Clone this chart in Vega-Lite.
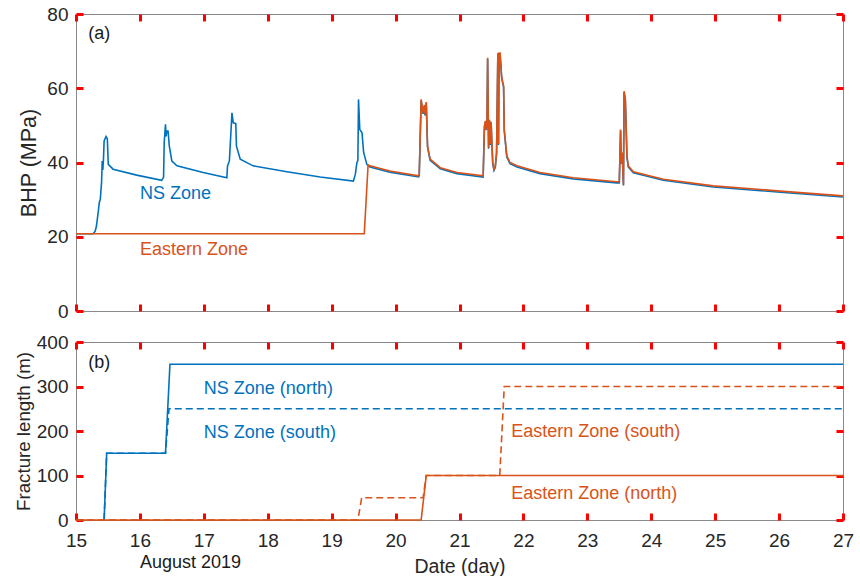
{
  "$schema": "https://vega.github.io/schema/vega-lite/v6.json",
  "padding": {"left": 13, "top": 4, "right": 5, "bottom": 0},
  "spacing": 31,
  "bounds": "flush",
  "config": {
    "font": "Liberation Sans",
    "view": {"stroke": "#8a8a8a", "strokeWidth": 1},
    "axis": {"grid": false, "domain": false, "labelFontSize": 19, "labelFlush": false, "labelOverlap": false}
  },
  "datasets": {
    "bhp": [
      {"z": "NS", "t": 15.0, "p": 20.8}, {"z": "NS", "t": 15.27, "p": 20.8}, {"z": "NS", "t": 15.3, "p": 21.5}, {"z": "NS", "t": 15.32, "p": 22.9}, {"z": "NS", "t": 15.35, "p": 27}, {"z": "NS", "t": 15.365, "p": 29.3}, {"z": "NS", "t": 15.38, "p": 30}, {"z": "NS", "t": 15.4, "p": 34.7}, {"z": "NS", "t": 15.41, "p": 40.4}, {"z": "NS", "t": 15.42, "p": 38}, {"z": "NS", "t": 15.43, "p": 41}, {"z": "NS", "t": 15.44, "p": 45.8}, {"z": "NS", "t": 15.47, "p": 47}, {"z": "NS", "t": 15.49, "p": 46.4}, {"z": "NS", "t": 15.505, "p": 39.5}, {"z": "NS", "t": 15.58, "p": 38.2}, {"z": "NS", "t": 15.95, "p": 36.6}, {"z": "NS", "t": 16.34, "p": 35.2},
      {"z": "NS", "t": 16.37, "p": 36}, {"z": "NS", "t": 16.38, "p": 45.3}, {"z": "NS", "t": 16.4, "p": 50.3}, {"z": "NS", "t": 16.41, "p": 47}, {"z": "NS", "t": 16.42, "p": 48.5}, {"z": "NS", "t": 16.44, "p": 48.5}, {"z": "NS", "t": 16.46, "p": 44.4}, {"z": "NS", "t": 16.5, "p": 40.4}, {"z": "NS", "t": 16.58, "p": 39.1}, {"z": "NS", "t": 16.99, "p": 37.3}, {"z": "NS", "t": 17.36, "p": 35.9},
      {"z": "NS", "t": 17.37, "p": 39}, {"z": "NS", "t": 17.4, "p": 40.5}, {"z": "NS", "t": 17.44, "p": 53.4}, {"z": "NS", "t": 17.46, "p": 50.7}, {"z": "NS", "t": 17.5, "p": 50.5}, {"z": "NS", "t": 17.51, "p": 44.4}, {"z": "NS", "t": 17.57, "p": 40.9}, {"z": "NS", "t": 17.77, "p": 39.1}, {"z": "NS", "t": 18.3, "p": 37.5}, {"z": "NS", "t": 18.82, "p": 36.1}, {"z": "NS", "t": 19.34, "p": 35.0},
      {"z": "NS", "t": 19.37, "p": 36.8}, {"z": "NS", "t": 19.395, "p": 40}, {"z": "NS", "t": 19.41, "p": 40.5}, {"z": "NS", "t": 19.42, "p": 57}, {"z": "NS", "t": 19.44, "p": 48.9}, {"z": "NS", "t": 19.475, "p": 48}, {"z": "NS", "t": 19.5, "p": 42.7}, {"z": "NS", "t": 19.55, "p": 39.5},
      {"z": "NS", "t": 19.6, "p": 38.8}, {"z": "NS", "t": 19.91, "p": 37.4}, {"z": "NS", "t": 20.36, "p": 36.1},
      {"z": "NS", "t": 20.37, "p": 36.5}, {"z": "NS", "t": 20.4, "p": 56.7}, {"z": "NS", "t": 20.43, "p": 53.1}, {"z": "NS", "t": 20.45, "p": 55.2}, {"z": "NS", "t": 20.46, "p": 52.7}, {"z": "NS", "t": 20.48, "p": 56.0}, {"z": "NS", "t": 20.5, "p": 44.1}, {"z": "NS", "t": 20.54, "p": 40.6}, {"z": "NS", "t": 20.7, "p": 38.3}, {"z": "NS", "t": 20.96, "p": 37.0}, {"z": "NS", "t": 21.37, "p": 36.1},
      {"z": "NS", "t": 21.39, "p": 49.5}, {"z": "NS", "t": 21.405, "p": 50.9}, {"z": "NS", "t": 21.42, "p": 48.7}, {"z": "NS", "t": 21.43, "p": 50.7}, {"z": "NS", "t": 21.44, "p": 67.9}, {"z": "NS", "t": 21.455, "p": 43.7}, {"z": "NS", "t": 21.47, "p": 51.2}, {"z": "NS", "t": 21.48, "p": 44.7}, {"z": "NS", "t": 21.495, "p": 50.7}, {"z": "NS", "t": 21.505, "p": 45.9}, {"z": "NS", "t": 21.52, "p": 39.7}, {"z": "NS", "t": 21.54, "p": 37.9}, {"z": "NS", "t": 21.56, "p": 38.7}, {"z": "NS", "t": 21.58, "p": 42.4}, {"z": "NS", "t": 21.6, "p": 69.2}, {"z": "NS", "t": 21.61, "p": 44.7}, {"z": "NS", "t": 21.62, "p": 69.2}, {"z": "NS", "t": 21.635, "p": 69.2}, {"z": "NS", "t": 21.66, "p": 62.7}, {"z": "NS", "t": 21.69, "p": 60.3}, {"z": "NS", "t": 21.7, "p": 48.6}, {"z": "NS", "t": 21.74, "p": 41.5}, {"z": "NS", "t": 21.79, "p": 39.7}, {"z": "NS", "t": 21.9, "p": 38.8}, {"z": "NS", "t": 22.26, "p": 37.0}, {"z": "NS", "t": 22.78, "p": 35.6}, {"z": "NS", "t": 23.46, "p": 34.5},
      {"z": "NS", "t": 23.5, "p": 34.5}, {"z": "NS", "t": 23.52, "p": 48.6}, {"z": "NS", "t": 23.53, "p": 39.7}, {"z": "NS", "t": 23.545, "p": 42.4}, {"z": "NS", "t": 23.565, "p": 33.8}, {"z": "NS", "t": 23.575, "p": 58.9}, {"z": "NS", "t": 23.595, "p": 56.7}, {"z": "NS", "t": 23.62, "p": 41.5}, {"z": "NS", "t": 23.64, "p": 38.8}, {"z": "NS", "t": 23.72, "p": 37.2}, {"z": "NS", "t": 24.19, "p": 35.2}, {"z": "NS", "t": 24.97, "p": 33.4}, {"z": "NS", "t": 26.02, "p": 32.0}, {"z": "NS", "t": 27.0, "p": 30.7},
      {"z": "E", "t": 15.0, "p": 20.8}, {"z": "E", "t": 19.51, "p": 20.8}, {"z": "E", "t": 19.57, "p": 39.4}, {"z": "E", "t": 19.6, "p": 39.1}, {"z": "E", "t": 19.91, "p": 37.7}, {"z": "E", "t": 20.36, "p": 36.4},
      {"z": "E", "t": 20.37, "p": 36.8}, {"z": "E", "t": 20.4, "p": 57}, {"z": "E", "t": 20.43, "p": 53.4}, {"z": "E", "t": 20.45, "p": 55.5}, {"z": "E", "t": 20.46, "p": 53}, {"z": "E", "t": 20.48, "p": 56.3}, {"z": "E", "t": 20.5, "p": 44.4}, {"z": "E", "t": 20.54, "p": 40.9}, {"z": "E", "t": 20.7, "p": 38.6}, {"z": "E", "t": 20.96, "p": 37.3}, {"z": "E", "t": 21.37, "p": 36.4},
      {"z": "E", "t": 21.39, "p": 49.8}, {"z": "E", "t": 21.405, "p": 51.2}, {"z": "E", "t": 21.42, "p": 49}, {"z": "E", "t": 21.43, "p": 51}, {"z": "E", "t": 21.44, "p": 68.2}, {"z": "E", "t": 21.455, "p": 44}, {"z": "E", "t": 21.47, "p": 51.5}, {"z": "E", "t": 21.48, "p": 45}, {"z": "E", "t": 21.495, "p": 51}, {"z": "E", "t": 21.505, "p": 46.2}, {"z": "E", "t": 21.52, "p": 40}, {"z": "E", "t": 21.54, "p": 38.2}, {"z": "E", "t": 21.56, "p": 39}, {"z": "E", "t": 21.58, "p": 42.7}, {"z": "E", "t": 21.6, "p": 69.5}, {"z": "E", "t": 21.61, "p": 45}, {"z": "E", "t": 21.62, "p": 69.5}, {"z": "E", "t": 21.635, "p": 69.5}, {"z": "E", "t": 21.66, "p": 63}, {"z": "E", "t": 21.69, "p": 60.6}, {"z": "E", "t": 21.7, "p": 48.9}, {"z": "E", "t": 21.74, "p": 41.8}, {"z": "E", "t": 21.79, "p": 40}, {"z": "E", "t": 21.9, "p": 39.1}, {"z": "E", "t": 22.26, "p": 37.3}, {"z": "E", "t": 22.78, "p": 35.9}, {"z": "E", "t": 23.46, "p": 34.8},
      {"z": "E", "t": 23.5, "p": 34.8}, {"z": "E", "t": 23.52, "p": 48.9}, {"z": "E", "t": 23.53, "p": 40}, {"z": "E", "t": 23.545, "p": 42.7}, {"z": "E", "t": 23.565, "p": 34.1}, {"z": "E", "t": 23.575, "p": 59.2}, {"z": "E", "t": 23.595, "p": 57}, {"z": "E", "t": 23.62, "p": 41.8}, {"z": "E", "t": 23.64, "p": 39.1}, {"z": "E", "t": 23.72, "p": 37.5}, {"z": "E", "t": 24.19, "p": 35.5}, {"z": "E", "t": 24.97, "p": 33.7}, {"z": "E", "t": 26.02, "p": 32.3}, {"z": "E", "t": 27.0, "p": 31.0}
    ],
    "frac": [
      {"s": "NS north", "t": 15.44, "L": 0}, {"s": "NS north", "t": 15.48, "L": 150}, {"s": "NS north", "t": 16.4, "L": 150}, {"s": "NS north", "t": 16.47, "L": 350}, {"s": "NS north", "t": 27.0, "L": 350},
      {"s": "NS south", "t": 15.44, "L": 0}, {"s": "NS south", "t": 15.48, "L": 150}, {"s": "NS south", "t": 16.4, "L": 150}, {"s": "NS south", "t": 16.455, "L": 250}, {"s": "NS south", "t": 27.0, "L": 250},
      {"s": "E north", "t": 15.0, "L": 0}, {"s": "E north", "t": 20.4, "L": 0}, {"s": "E north", "t": 20.48, "L": 100}, {"s": "E north", "t": 27.0, "L": 100},
      {"s": "E south", "t": 15.0, "L": 0}, {"s": "E south", "t": 19.41, "L": 0}, {"s": "E south", "t": 19.47, "L": 50}, {"s": "E south", "t": 20.43, "L": 50}, {"s": "E south", "t": 20.48, "L": 100}, {"s": "E south", "t": 21.63, "L": 100}, {"s": "E south", "t": 21.7, "L": 300}, {"s": "E south", "t": 27.0, "L": 300}
    ],
    "labels_a": [
      {"t": 15.19, "v": 74.7, "label": "(a)", "c": "k"},
      {"t": 16.0, "v": 31.5, "label": "NS Zone", "c": "NS"},
      {"t": 16.0, "v": 16.5, "label": "Eastern Zone", "c": "E"}
    ],
    "labels_b": [
      {"t": 15.19, "v": 352, "label": "(b)", "c": "k"},
      {"t": 17.0, "v": 295, "label": "NS Zone (north)", "c": "NS"},
      {"t": 17.0, "v": 195, "label": "NS Zone (south)", "c": "NS"},
      {"t": 21.81, "v": 197.5, "label": "Eastern Zone (south)", "c": "E"},
      {"t": 21.81, "v": 58, "label": "Eastern Zone (north)", "c": "E"},
      {"t": 16.0, "v": -97, "label": "August 2019", "c": "k"}
    ]
  },
  "vconcat": [
    {
      "width": 767,
      "height": 297,
      "data": {"name": "bhp"},
      "resolve": {"axis": {"x": "independent", "y": "independent"}},
      "layer": [
        {
          "transform": [{"filter": "datum.z === 'NS'"}],
          "mark": {"type": "line", "color": "#0072BD", "strokeWidth": 1.6},
          "encoding": {
            "x": {"field": "t", "type": "quantitative", "scale": {"domain": [15, 27], "nice": false}, "axis": {"orient": "bottom", "values": [15,16,17,18,19,20,21,22,23,24,25,26,27], "labels": false, "title": null, "tickColor": "red", "tickWidth": 3, "tickSize": 7, "offset": -7}},
            "y": {"field": "p", "type": "quantitative", "scale": {"domain": [0, 80], "nice": false}, "axis": {"orient": "left", "values": [0,20,40,60,80], "title": "BHP (MPa)", "titleFontSize": 21.5, "titleFontWeight": "normal", "titleColor": "#262626", "labelColor": "#262626", "titlePadding": 6, "labelPadding": 8, "tickColor": "red", "tickWidth": 3, "tickSize": 7, "offset": -7}}
          }
        },
        {
          "transform": [{"filter": "datum.z === 'E'"}],
          "mark": {"type": "line", "color": "#D95319", "strokeWidth": 1.6},
          "encoding": {
            "x": {"field": "t", "type": "quantitative", "scale": {"domain": [15, 27], "nice": false}, "axis": {"orient": "top", "values": [15,16,17,18,19,20,21,22,23,24,25,26,27], "labels": false, "title": null, "tickColor": "red", "tickWidth": 3, "tickSize": 7, "offset": -7}},
            "y": {"field": "p", "type": "quantitative", "scale": {"domain": [0, 80], "nice": false}, "axis": {"orient": "right", "values": [0,20,40,60,80], "labels": false, "title": null, "tickColor": "red", "tickWidth": 3, "tickSize": 7, "offset": -7}}
          }
        },
        {
          "data": {"name": "labels_a"},
          "transform": [{"filter": "datum.c === 'k'"}],
          "mark": {"type": "text", "align": "left", "baseline": "middle", "fontSize": 18, "color": "#1a1a1a"},
          "encoding": {
            "x": {"field": "t", "type": "quantitative", "scale": {"domain": [15, 27], "nice": false}, "axis": null},
            "y": {"field": "v", "type": "quantitative", "scale": {"domain": [0, 80], "nice": false}, "axis": null},
            "text": {"field": "label"}
          }
        },
        {
          "data": {"name": "labels_a"},
          "transform": [{"filter": "datum.c === 'NS'"}],
          "mark": {"type": "text", "align": "left", "baseline": "middle", "fontSize": 18, "color": "#0072BD"},
          "encoding": {
            "x": {"field": "t", "type": "quantitative", "scale": {"domain": [15, 27], "nice": false}, "axis": null},
            "y": {"field": "v", "type": "quantitative", "scale": {"domain": [0, 80], "nice": false}, "axis": null},
            "text": {"field": "label"}
          }
        },
        {
          "data": {"name": "labels_a"},
          "transform": [{"filter": "datum.c === 'E'"}],
          "mark": {"type": "text", "align": "left", "baseline": "middle", "fontSize": 18, "color": "#D95319"},
          "encoding": {
            "x": {"field": "t", "type": "quantitative", "scale": {"domain": [15, 27], "nice": false}, "axis": null},
            "y": {"field": "v", "type": "quantitative", "scale": {"domain": [0, 80], "nice": false}, "axis": null},
            "text": {"field": "label"}
          }
        }
      ]
    },
    {
      "width": 767,
      "height": 178,
      "data": {"name": "frac"},
      "resolve": {"axis": {"x": "independent", "y": "independent"}},
      "layer": [
        {
          "transform": [{"filter": "datum.s === 'NS north'"}],
          "mark": {"type": "line", "color": "#0072BD", "strokeWidth": 1.6},
          "encoding": {
            "x": {"field": "t", "type": "quantitative", "scale": {"domain": [15, 27], "nice": false}, "axis": {"orient": "bottom", "values": [15,16,17,18,19,20,21,22,23,24,25,26,27], "title": "Date (day)", "titleFontSize": 19.5, "titleFontWeight": "normal", "titleColor": "#262626", "labelColor": "#262626", "titlePadding": 7, "labelPadding": 11, "tickColor": "red", "tickWidth": 3, "tickSize": 7, "offset": -7}},
            "y": {"field": "L", "type": "quantitative", "scale": {"domain": [0, 400], "nice": false}, "axis": {"orient": "left", "values": [0,100,200,300,400], "title": "Fracture length (m)", "titleFontSize": 18.7, "titleFontWeight": "normal", "titleColor": "#262626", "labelColor": "#262626", "titlePadding": 3, "labelPadding": 8, "tickColor": "red", "tickWidth": 3, "tickSize": 7, "offset": -7}}
          }
        },
        {
          "transform": [{"filter": "datum.s === 'NS south'"}],
          "mark": {"type": "line", "color": "#0072BD", "strokeWidth": 1.6, "strokeDash": [7, 4]},
          "encoding": {
            "x": {"field": "t", "type": "quantitative", "scale": {"domain": [15, 27], "nice": false}, "axis": {"orient": "top", "values": [15,16,17,18,19,20,21,22,23,24,25,26,27], "labels": false, "title": null, "tickColor": "red", "tickWidth": 3, "tickSize": 7, "offset": -7}},
            "y": {"field": "L", "type": "quantitative", "scale": {"domain": [0, 400], "nice": false}, "axis": {"orient": "right", "values": [0,100,200,300,400], "labels": false, "title": null, "tickColor": "red", "tickWidth": 3, "tickSize": 7, "offset": -7}}
          }
        },
        {
          "transform": [{"filter": "datum.s === 'E north'"}],
          "mark": {"type": "line", "color": "#D95319", "strokeWidth": 1.6},
          "encoding": {
            "x": {"field": "t", "type": "quantitative", "scale": {"domain": [15, 27], "nice": false}, "axis": null},
            "y": {"field": "L", "type": "quantitative", "scale": {"domain": [0, 400], "nice": false}, "axis": null}
          }
        },
        {
          "transform": [{"filter": "datum.s === 'E south'"}],
          "mark": {"type": "line", "color": "#D95319", "strokeWidth": 1.6, "strokeDash": [7, 4]},
          "encoding": {
            "x": {"field": "t", "type": "quantitative", "scale": {"domain": [15, 27], "nice": false}, "axis": null},
            "y": {"field": "L", "type": "quantitative", "scale": {"domain": [0, 400], "nice": false}, "axis": null}
          }
        },
        {
          "data": {"name": "labels_b"},
          "transform": [{"filter": "datum.c === 'k'"}],
          "mark": {"type": "text", "align": "left", "baseline": "middle", "fontSize": 18, "color": "#1a1a1a"},
          "encoding": {
            "x": {"field": "t", "type": "quantitative", "scale": {"domain": [15, 27], "nice": false}, "axis": null},
            "y": {"field": "v", "type": "quantitative", "scale": {"domain": [0, 400], "nice": false}, "axis": null},
            "text": {"field": "label"}
          }
        },
        {
          "data": {"name": "labels_b"},
          "transform": [{"filter": "datum.c === 'NS'"}],
          "mark": {"type": "text", "align": "left", "baseline": "middle", "fontSize": 18, "color": "#0072BD"},
          "encoding": {
            "x": {"field": "t", "type": "quantitative", "scale": {"domain": [15, 27], "nice": false}, "axis": null},
            "y": {"field": "v", "type": "quantitative", "scale": {"domain": [0, 400], "nice": false}, "axis": null},
            "text": {"field": "label"}
          }
        },
        {
          "data": {"name": "labels_b"},
          "transform": [{"filter": "datum.c === 'E'"}],
          "mark": {"type": "text", "align": "left", "baseline": "middle", "fontSize": 18, "color": "#D95319"},
          "encoding": {
            "x": {"field": "t", "type": "quantitative", "scale": {"domain": [15, 27], "nice": false}, "axis": null},
            "y": {"field": "v", "type": "quantitative", "scale": {"domain": [0, 400], "nice": false}, "axis": null},
            "text": {"field": "label"}
          }
        }
      ]
    }
  ]
}
